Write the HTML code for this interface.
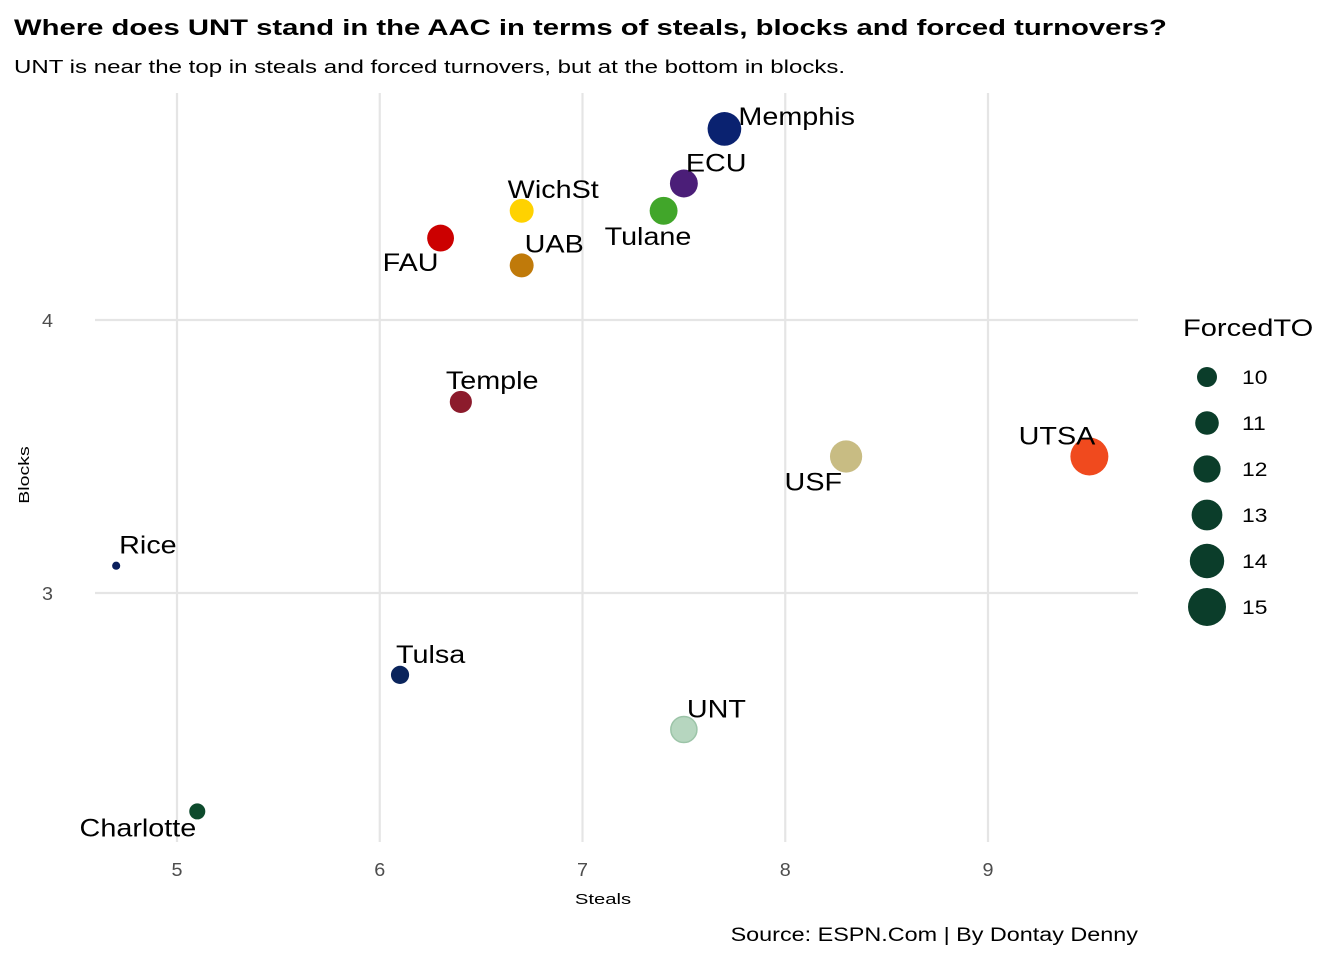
<!DOCTYPE html>
<html><head><meta charset="utf-8"><style>
body{margin:0;background:#fff;font-family:"Liberation Sans",Arial,sans-serif}
</style></head><body>
<svg width="1344" height="960" xmlns="http://www.w3.org/2000/svg" font-family="Liberation Sans, Arial, sans-serif">
<text class="st" data-f="1.3" x="14" y="35" font-size="22.5" font-weight="bold" fill="#000">Where does UNT stand in the AAC in terms of steals, blocks and forced turnovers?</text>
<text class="st" data-f="1.3" x="14" y="73" font-size="18.5" fill="#000">UNT is near the top in steals and forced turnovers, but at the bottom in blocks.</text>
<g id="grid"></g><g id="axes"></g><g id="pts"></g><g id="legend"></g>
<text class="st" data-f="1.3" x="29" y="475" font-size="15" fill="#000" text-anchor="middle" transform="rotate(-90 29 475)">Blocks</text>
<text class="st" data-f="1.35" x="603" y="904" font-size="15" fill="#000" text-anchor="middle">Steals</text>
<text class="st" data-f="1.23" x="1138" y="941" font-size="19" fill="#000" text-anchor="end">Source: ESPN.Com | By Dontay Denny</text>
</svg>
<script>
const teams=["Memphis","ECU","WichSt","Tulane","FAU","UAB","Temple","USF","UTSA","Rice","Tulsa","UNT","Charlotte"];
const steals=[7.7,7.5,6.7,7.4,6.3,6.7,6.4,8.3,9.5,4.7,6.1,7.5,5.1];
const blocks=[4.7,4.5,4.4,4.4,4.3,4.2,3.7,3.5,3.5,3.1,2.7,2.5,2.2];
const forcedTO=[13.8,12.2,11.1,12.2,11.9,11.1,10.6,13.4,15,6.7,9.5,11.7,8.9];
const colors=["#0a2270","#4b1e78","#ffd200","#41a62a","#cc0000","#c07a0a","#8c1b2c","#c8bc83","#f04a1e","#0a1f5c","#0a245c","#b6d6bf","#0d4a2c"];
const labelOff=[[14,-4,"start"],[2,-12,"start"],[-14,-13,"start"],[-59,34,"start"],[-2,33,"end"],[3,-13,"start"],[-15,-13,"start"],[-4,34,"end"],[6,-12,"end"],[3,-12,"start"],[-4,-12,"start"],[3,-12,"start"],[-1,25,"end"]];
const xTicks=[5,6,7,8,9];
const yTicks=[3,4];
const legendVals=[10,11,12,13,14,15];
const X=v=>177+(v-5)*202.75;
const Y=v=>320-(v-4)*273;
const R=v=>Math.max(3.5,10+(v-10)*1.8);
const NS="http://www.w3.org/2000/svg";
function mk(t,a,p){const e=document.createElementNS(NS,t);for(const k in a)e.setAttribute(k,a[k]);p.appendChild(e);return e;}
const grid=document.getElementById('grid'),axes=document.getElementById('axes'),pts=document.getElementById('pts'),lg=document.getElementById('legend');
xTicks.forEach(v=>{
 const l=mk('line',{x1:X(v),x2:X(v),y1:93,y2:842,stroke:'#e5e5e5','stroke-width':2.2},grid);
 
 
 const t=mk('text',{x:X(v),y:876,'font-size':18,fill:'#4d4d4d','text-anchor':'middle',class:'st','data-f':'1.1'},axes);t.textContent=v;
 
 
});
yTicks.forEach(v=>{
 const l=mk('line',{x1:95,x2:1138,y1:Y(v),y2:Y(v),stroke:'#e5e5e5','stroke-width':2.2},grid);
 
 
 const t=mk('text',{x:53,y:Y(v)+7,'font-size':18,fill:'#4d4d4d','text-anchor':'end',class:'st','data-f':'1.1'},axes);t.textContent=v;
 
 
});
teams.forEach((n,i)=>{
 const cx=X(steals[i]),cy=Y(blocks[i]);
 const c=mk('circle',{cx:cx,cy:cy,r:R(forcedTO[i]),fill:colors[i]},pts);
 if(n==="UNT"){c.setAttribute('stroke','#9cc4a8');c.setAttribute('stroke-width',1.5);}
 
 
 const o=labelOff[i];
 const t=mk('text',{x:cx+o[0],y:cy+o[1],'font-size':25,fill:'#000','text-anchor':o[2],class:'st','data-f':'1.15'},pts);t.textContent=n;
 
 
});
const lt=mk('text',{x:1183,y:336,'font-size':24,fill:'#000',class:'st','data-f':'1.21'},lg);lt.textContent="ForcedTO";


legendVals.forEach((v,i)=>{
 const y=377+i*46;
 const c=mk('circle',{cx:1207,cy:y,r:R(v),fill:'#0b3d2a'},lg);
 
 
 const t=mk('text',{x:1242,y:y+7,'font-size':19,fill:'#000',class:'st','data-f':'1.2'},lg);t.textContent=v;
 
 
});
document.querySelectorAll('.st').forEach(t=>{
 const f=parseFloat(t.getAttribute('data-f'));
 const w=t.getComputedTextLength();
 t.setAttribute('textLength',(w*f).toFixed(1));
 t.setAttribute('lengthAdjust','spacingAndGlyphs');
});
</script>
</body></html>
